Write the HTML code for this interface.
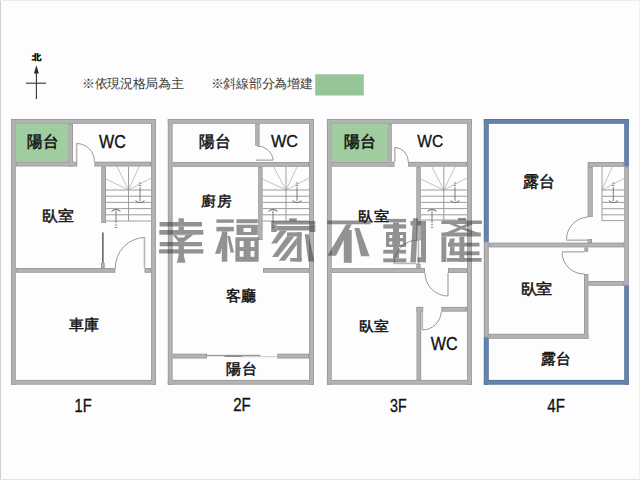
<!DOCTYPE html>
<html><head><meta charset="utf-8"><style>
html,body{margin:0;padding:0;background:#fdfdfd;}
body{width:640px;height:480px;overflow:hidden;position:relative;font-family:"Liberation Sans",sans-serif;}
svg{position:absolute;left:0;top:0;}
svg text{font-family:"Liberation Sans",sans-serif;}
</style></head><body>
<svg width="640" height="480" viewBox="0 0 640 480">
<rect x="0" y="0" width="640" height="480" fill="#fdfdfd"/>
<rect x="0" y="0" width="1" height="480" fill="#d0d2d0"/>
<rect x="0" y="479" width="640" height="1" fill="#e3e3e3"/>
<rect x="0" y="0" width="640" height="1" fill="#ececec"/>
<rect x="639" y="0" width="1" height="480" fill="#f0f0f0"/>

<path d="M36.4 65.3L33.9 73.4H38.9Z" fill="#2a2a2a"/>
<line x1="36.4" y1="72" x2="36.4" y2="99" stroke="#333" stroke-width="1.1"/>
<line x1="26" y1="83.2" x2="46" y2="83.2" stroke="#333" stroke-width="1.1"/>
<text transform="translate(32.00 59.95) scale(0.9715 0.8431)" font-size="10" font-weight="bold" fill="#111" stroke="#111" stroke-width="0.3">北</text><text x="81.9" y="88.4" font-size="13" letter-spacing="-0.3" fill="#3a3a3a">※依現況格局為主</text><text x="210.8" y="88.4" font-size="13" letter-spacing="-0.3" fill="#3a3a3a">※斜線部分為增建</text>

<rect x="315.2" y="74.3" width="48.6" height="21.2" fill="#97c59a"/>
<rect x="15.8" y="123.8" width="52.4" height="38" fill="#9fcd9f"/>
<rect x="75.8" y="143.5" width="1.6" height="18.5" fill="#b8b8b8"/>
<path d="M76.6 143.5A17.8 17.8 0 0 1 94.4 161.7" fill="none" stroke="#999999" stroke-width="1"/>
<line x1="128.5" y1="190" x2="106" y2="179" stroke="#b4b4b4" stroke-width="0.8"/>
<line x1="128.5" y1="190" x2="117" y2="166.5" stroke="#b4b4b4" stroke-width="0.8"/>
<line x1="128.5" y1="190" x2="139.1" y2="166.5" stroke="#b4b4b4" stroke-width="0.8"/>
<line x1="128.5" y1="190" x2="151.1" y2="178" stroke="#b4b4b4" stroke-width="0.8"/>
<line x1="128.5" y1="166.5" x2="128.5" y2="221" stroke="#939393" stroke-width="0.9"/>
<line x1="106" y1="190" x2="151.1" y2="190" stroke="#939393" stroke-width="0.9"/>
<line x1="106" y1="196.2" x2="151.1" y2="196.2" stroke="#939393" stroke-width="0.9"/>
<line x1="106" y1="202.4" x2="151.1" y2="202.4" stroke="#939393" stroke-width="0.9"/>
<line x1="106" y1="208.6" x2="151.1" y2="208.6" stroke="#939393" stroke-width="0.9"/>
<line x1="106" y1="214.8" x2="151.1" y2="214.8" stroke="#939393" stroke-width="0.9"/>
<line x1="106" y1="221" x2="151.1" y2="221" stroke="#939393" stroke-width="0.9"/>
<line x1="140" y1="187" x2="140" y2="201" stroke="#6e6e6e" stroke-width="0.9"/>
<path d="M135.5 200.5A6 6 0 0 0 144.5 200.5" fill="none" stroke="#6e6e6e" stroke-width="1.1"/>
<line x1="138.8" y1="183" x2="141.2" y2="183" stroke="#6e6e6e" stroke-width="0.8"/>
<line x1="138.8" y1="185.5" x2="141.2" y2="185.5" stroke="#6e6e6e" stroke-width="0.8"/>
<path d="M111.5 211.5A6 6 0 0 1 120.5 211.5" fill="none" stroke="#6e6e6e" stroke-width="1.1"/>
<line x1="116" y1="210.5" x2="116" y2="223" stroke="#6e6e6e" stroke-width="0.9"/>
<line x1="114.8" y1="225" x2="117.2" y2="225" stroke="#6e6e6e" stroke-width="0.8"/>
<line x1="114.8" y1="227.5" x2="117.2" y2="227.5" stroke="#6e6e6e" stroke-width="0.8"/>
<rect x="102" y="232.5" width="1.7" height="30.3" fill="#707070"/>
<rect x="143.7" y="237" width="1.6" height="31" fill="#b8b8b8"/>
<path d="M115.4 268A30 30 0 0 1 144.5 237.5" fill="none" stroke="#999999" stroke-width="1"/>
<rect x="256" y="159.39999999999998" width="17" height="1.6" fill="#b8b8b8"/>
<path d="M257 146A16 16 0 0 1 273.3 160" fill="none" stroke="#999999" stroke-width="1"/>
<line x1="286" y1="190" x2="262.6" y2="179" stroke="#b4b4b4" stroke-width="0.8"/>
<line x1="286" y1="190" x2="273.6" y2="166.8" stroke="#b4b4b4" stroke-width="0.8"/>
<line x1="286" y1="190" x2="297.1" y2="166.8" stroke="#b4b4b4" stroke-width="0.8"/>
<line x1="286" y1="190" x2="309.1" y2="178" stroke="#b4b4b4" stroke-width="0.8"/>
<line x1="286" y1="166.8" x2="286" y2="221" stroke="#939393" stroke-width="0.9"/>
<line x1="262.6" y1="190" x2="309.1" y2="190" stroke="#939393" stroke-width="0.9"/>
<line x1="262.6" y1="196.2" x2="309.1" y2="196.2" stroke="#939393" stroke-width="0.9"/>
<line x1="262.6" y1="202.4" x2="309.1" y2="202.4" stroke="#939393" stroke-width="0.9"/>
<line x1="262.6" y1="208.6" x2="309.1" y2="208.6" stroke="#939393" stroke-width="0.9"/>
<line x1="262.6" y1="214.8" x2="309.1" y2="214.8" stroke="#939393" stroke-width="0.9"/>
<line x1="262.6" y1="221" x2="309.1" y2="221" stroke="#939393" stroke-width="0.9"/>
<line x1="297" y1="187" x2="297" y2="201" stroke="#6e6e6e" stroke-width="0.9"/>
<path d="M292.5 200.5A6 6 0 0 0 301.5 200.5" fill="none" stroke="#6e6e6e" stroke-width="1.1"/>
<line x1="295.8" y1="183" x2="298.2" y2="183" stroke="#6e6e6e" stroke-width="0.8"/>
<line x1="295.8" y1="185.5" x2="298.2" y2="185.5" stroke="#6e6e6e" stroke-width="0.8"/>
<path d="M268.5 211.5A6 6 0 0 1 277.5 211.5" fill="none" stroke="#6e6e6e" stroke-width="1.1"/>
<line x1="273" y1="210.5" x2="273" y2="223" stroke="#6e6e6e" stroke-width="0.9"/>
<line x1="271.8" y1="225" x2="274.2" y2="225" stroke="#6e6e6e" stroke-width="0.8"/>
<line x1="271.8" y1="227.5" x2="274.2" y2="227.5" stroke="#6e6e6e" stroke-width="0.8"/>
<rect x="207" y="354.8" width="53.5" height="1.4" fill="#9a9a9a"/>
<rect x="224.5" y="355.6" width="17.5" height="1.4" fill="#8a8a8a"/>
<rect x="242" y="356.2" width="35" height="1" fill="#c8c8c8"/>
<rect x="331.7" y="123.8" width="55.7" height="38.1" fill="#9fcd9f"/>
<rect x="394.0" y="147.4" width="1.6" height="14.599999999999994" fill="#b8b8b8"/>
<path d="M394.8 147.4A14 14 0 0 1 408.3 162" fill="none" stroke="#999999" stroke-width="1"/>
<line x1="443.8" y1="190" x2="420.8" y2="179" stroke="#b4b4b4" stroke-width="0.8"/>
<line x1="443.8" y1="190" x2="431.8" y2="166.7" stroke="#b4b4b4" stroke-width="0.8"/>
<line x1="443.8" y1="190" x2="455.1" y2="166.7" stroke="#b4b4b4" stroke-width="0.8"/>
<line x1="443.8" y1="190" x2="467.1" y2="178" stroke="#b4b4b4" stroke-width="0.8"/>
<line x1="443.8" y1="166.7" x2="443.8" y2="220" stroke="#939393" stroke-width="0.9"/>
<line x1="420.8" y1="190" x2="467.1" y2="190" stroke="#939393" stroke-width="0.9"/>
<line x1="420.8" y1="196.2" x2="467.1" y2="196.2" stroke="#939393" stroke-width="0.9"/>
<line x1="420.8" y1="202.4" x2="467.1" y2="202.4" stroke="#939393" stroke-width="0.9"/>
<line x1="420.8" y1="208.6" x2="467.1" y2="208.6" stroke="#939393" stroke-width="0.9"/>
<line x1="420.8" y1="214.8" x2="467.1" y2="214.8" stroke="#939393" stroke-width="0.9"/>
<line x1="420.8" y1="220" x2="467.1" y2="220" stroke="#939393" stroke-width="0.9"/>
<line x1="455" y1="187" x2="455" y2="201" stroke="#6e6e6e" stroke-width="0.9"/>
<path d="M450.5 200.5A6 6 0 0 0 459.5 200.5" fill="none" stroke="#6e6e6e" stroke-width="1.1"/>
<line x1="453.8" y1="183" x2="456.2" y2="183" stroke="#6e6e6e" stroke-width="0.8"/>
<line x1="453.8" y1="185.5" x2="456.2" y2="185.5" stroke="#6e6e6e" stroke-width="0.8"/>
<path d="M427.5 211.5A6 6 0 0 1 436.5 211.5" fill="none" stroke="#6e6e6e" stroke-width="1.1"/>
<line x1="432" y1="210.5" x2="432" y2="223" stroke="#6e6e6e" stroke-width="0.9"/>
<line x1="430.8" y1="225" x2="433.2" y2="225" stroke="#6e6e6e" stroke-width="0.8"/>
<line x1="430.8" y1="227.5" x2="433.2" y2="227.5" stroke="#6e6e6e" stroke-width="0.8"/>
<rect x="417.7" y="240" width="1.6" height="24" fill="#b8b8b8"/>
<path d="M418.5 240A24 24 0 0 0 394 264" fill="none" stroke="#999999" stroke-width="1"/>
<rect x="394" y="262.59999999999997" width="22.30000000000001" height="1.6" fill="#b8b8b8"/>
<rect x="447.2" y="272.9" width="1.6" height="23.100000000000023" fill="#b8b8b8"/>
<path d="M425 272.9A23 23 0 0 0 448 296" fill="none" stroke="#999999" stroke-width="1"/>
<rect x="421.5" y="311.7" width="1.6" height="18.30000000000001" fill="#b8b8b8"/>
<path d="M422.3 330A19 19 0 0 0 441.25 311.7" fill="none" stroke="#999999" stroke-width="1"/>
<line x1="602" y1="190" x2="612.4" y2="166.8" stroke="#b4b4b4" stroke-width="0.8"/>
<line x1="602" y1="190" x2="624.2" y2="178.3" stroke="#b4b4b4" stroke-width="0.8"/>
<line x1="602" y1="166.8" x2="602" y2="220.6" stroke="#939393" stroke-width="0.9"/>
<line x1="602" y1="190" x2="624.2" y2="190" stroke="#939393" stroke-width="0.9"/>
<line x1="602" y1="196.3" x2="624.2" y2="196.3" stroke="#939393" stroke-width="0.9"/>
<line x1="602" y1="202.4" x2="624.2" y2="202.4" stroke="#939393" stroke-width="0.9"/>
<line x1="602" y1="208.7" x2="624.2" y2="208.7" stroke="#939393" stroke-width="0.9"/>
<line x1="602" y1="214.8" x2="624.2" y2="214.8" stroke="#939393" stroke-width="0.9"/>
<line x1="602" y1="220.6" x2="624.2" y2="220.6" stroke="#939393" stroke-width="0.9"/>
<line x1="613.3" y1="187" x2="613.3" y2="201" stroke="#6e6e6e" stroke-width="0.9"/>
<path d="M608.8 200.5A6 6 0 0 0 617.8 200.5" fill="none" stroke="#6e6e6e" stroke-width="1.1"/>
<line x1="612.0999999999999" y1="183" x2="614.5" y2="183" stroke="#6e6e6e" stroke-width="0.8"/>
<line x1="612.0999999999999" y1="185.5" x2="614.5" y2="185.5" stroke="#6e6e6e" stroke-width="0.8"/>
<path d="M588 217A22.5 22.5 0 0 0 566.5 239.5" fill="none" stroke="#999999" stroke-width="1"/>
<rect x="566.5" y="239.39999999999998" width="21.5" height="1.6" fill="#b8b8b8"/>
<rect x="562" y="251.0" width="22.299999999999955" height="1.6" fill="#b8b8b8"/>
<path d="M562 252.5A22 22 0 0 0 584.3 274" fill="none" stroke="#999999" stroke-width="1"/>
<rect x="11" y="119" width="144.9" height="4.8" fill="#9a9a9a"/>
<rect x="11" y="379.9" width="144.9" height="4.8" fill="#9a9a9a"/>
<rect x="11" y="119" width="4.8" height="265.7" fill="#9a9a9a"/>
<rect x="151.1" y="119" width="4.8" height="265.7" fill="#9a9a9a"/>
<rect x="68.2" y="123.8" width="4.8" height="42.7" fill="#9a9a9a"/>
<rect x="15.8" y="161.7" width="61.400000000000006" height="4.8" fill="#9a9a9a"/>
<rect x="94.4" y="161.7" width="56.69999999999999" height="4.8" fill="#9a9a9a"/>
<rect x="101.2" y="166.5" width="4.8" height="56.5" fill="#9a9a9a"/>
<rect x="101" y="262.8" width="3.7" height="5.2" fill="#9a9a9a"/>
<rect x="15.8" y="268" width="99.60000000000001" height="4.8" fill="#9a9a9a"/>
<rect x="144.5" y="268" width="6.599999999999994" height="4.8" fill="#9a9a9a"/>
<rect x="167.8" y="119" width="146.0" height="4.8" fill="#9a9a9a"/>
<rect x="167.8" y="379.9" width="146.0" height="4.8" fill="#9a9a9a"/>
<rect x="167.8" y="119" width="4.8" height="265.7" fill="#9a9a9a"/>
<rect x="309.1" y="119" width="4.8" height="265.7" fill="#9a9a9a"/>
<rect x="255.2" y="123.8" width="4.4" height="22" fill="#9a9a9a"/>
<rect x="172.6" y="162" width="136.50000000000003" height="4.8" fill="#9a9a9a"/>
<rect x="258.2" y="166.8" width="4.4" height="73.2" fill="#9a9a9a"/>
<rect x="263" y="268" width="46.10000000000002" height="4.8" fill="#9a9a9a"/>
<rect x="172.6" y="353.7" width="34.400000000000006" height="4.8" fill="#9a9a9a"/>
<rect x="277.3" y="353.7" width="31.80000000000001" height="4.8" fill="#9a9a9a"/>
<rect x="326.9" y="119" width="145.0" height="4.8" fill="#9a9a9a"/>
<rect x="326.9" y="379.9" width="145.0" height="4.8" fill="#9a9a9a"/>
<rect x="326.9" y="119" width="4.8" height="265.7" fill="#9a9a9a"/>
<rect x="467.1" y="119" width="4.8" height="265.7" fill="#9a9a9a"/>
<rect x="387.4" y="123.8" width="4.4" height="42.8" fill="#9a9a9a"/>
<rect x="331.7" y="161.9" width="62.80000000000001" height="4.8" fill="#9a9a9a"/>
<rect x="408.1" y="161.9" width="59.0" height="4.8" fill="#9a9a9a"/>
<rect x="416.3" y="166.7" width="4.5" height="73.6" fill="#9a9a9a"/>
<rect x="416.3" y="263.7" width="4.3" height="4.6" fill="#9a9a9a"/>
<rect x="331.7" y="268.1" width="93.30000000000001" height="4.8" fill="#9a9a9a"/>
<rect x="448" y="268.1" width="19.100000000000023" height="4.8" fill="#9a9a9a"/>
<rect x="416.5" y="306.9" width="4.7" height="73" fill="#9a9a9a"/>
<rect x="416.5" y="306.9" width="6.699999999999989" height="4.8" fill="#9a9a9a"/>
<rect x="441.25" y="306.9" width="25.850000000000023" height="4.8" fill="#9a9a9a"/>
<rect x="483.8" y="119" width="145.09999999999997" height="4.8" fill="#56739b"/>
<rect x="483.8" y="379.9" width="145.09999999999997" height="4.8" fill="#56739b"/>
<rect x="483.8" y="119" width="5" height="122.8" fill="#56739b"/>
<rect x="483.8" y="241.8" width="5" height="95.5" fill="#9a9a9a"/>
<rect x="483.8" y="337.3" width="5" height="47.4" fill="#56739b"/>
<rect x="624.2" y="119" width="4.7" height="47.7" fill="#56739b"/>
<rect x="624.2" y="166.7" width="4.7" height="118.6" fill="#9a9a9a"/>
<rect x="624.2" y="285.3" width="4.7" height="99.4" fill="#56739b"/>
<rect x="587.6" y="162" width="36.60000000000002" height="4.8" fill="#9a9a9a"/>
<rect x="587.6" y="166.8" width="5.2" height="50.2" fill="#9a9a9a"/>
<rect x="587.6" y="239" width="4.4" height="4" fill="#9a9a9a"/>
<rect x="488.8" y="242.6" width="135.40000000000003" height="4.8" fill="#9a9a9a"/>
<rect x="584.3" y="247.4" width="3.9" height="4.4" fill="#9a9a9a"/>
<rect x="584" y="274" width="4.4" height="64.6" fill="#9a9a9a"/>
<rect x="588.4" y="281" width="35.80000000000007" height="4.8" fill="#9a9a9a"/>
<rect x="488.8" y="333.8" width="99.6" height="5" fill="#9a9a9a"/>
<rect x="11.90" y="119.90" width="143.10" height="3.00" fill="#b3b3b3"/>
<rect x="11.90" y="380.80" width="143.10" height="3.00" fill="#b3b3b3"/>
<rect x="11.90" y="119.90" width="3.00" height="263.90" fill="#b3b3b3"/>
<rect x="152.00" y="119.90" width="3.00" height="263.90" fill="#b3b3b3"/>
<rect x="69.10" y="124.70" width="3.00" height="40.90" fill="#b3b3b3"/>
<rect x="16.70" y="162.60" width="59.60" height="3.00" fill="#b3b3b3"/>
<rect x="95.30" y="162.60" width="54.90" height="3.00" fill="#b3b3b3"/>
<rect x="102.10" y="167.40" width="3.00" height="54.70" fill="#b3b3b3"/>
<rect x="101.90" y="263.70" width="1.90" height="3.40" fill="#b3b3b3"/>
<rect x="16.70" y="268.90" width="97.80" height="3.00" fill="#b3b3b3"/>
<rect x="145.40" y="268.90" width="4.80" height="3.00" fill="#b3b3b3"/>
<rect x="168.70" y="119.90" width="144.20" height="3.00" fill="#b3b3b3"/>
<rect x="168.70" y="380.80" width="144.20" height="3.00" fill="#b3b3b3"/>
<rect x="168.70" y="119.90" width="3.00" height="263.90" fill="#b3b3b3"/>
<rect x="310.00" y="119.90" width="3.00" height="263.90" fill="#b3b3b3"/>
<rect x="256.10" y="124.70" width="2.60" height="20.20" fill="#b3b3b3"/>
<rect x="173.50" y="162.90" width="134.70" height="3.00" fill="#b3b3b3"/>
<rect x="259.10" y="167.70" width="2.60" height="71.40" fill="#b3b3b3"/>
<rect x="263.90" y="268.90" width="44.30" height="3.00" fill="#b3b3b3"/>
<rect x="173.50" y="354.60" width="32.60" height="3.00" fill="#b3b3b3"/>
<rect x="278.20" y="354.60" width="30.00" height="3.00" fill="#b3b3b3"/>
<rect x="327.80" y="119.90" width="143.20" height="3.00" fill="#b3b3b3"/>
<rect x="327.80" y="380.80" width="143.20" height="3.00" fill="#b3b3b3"/>
<rect x="327.80" y="119.90" width="3.00" height="263.90" fill="#b3b3b3"/>
<rect x="468.00" y="119.90" width="3.00" height="263.90" fill="#b3b3b3"/>
<rect x="388.30" y="124.70" width="2.60" height="41.00" fill="#b3b3b3"/>
<rect x="332.60" y="162.80" width="61.00" height="3.00" fill="#b3b3b3"/>
<rect x="409.00" y="162.80" width="57.20" height="3.00" fill="#b3b3b3"/>
<rect x="417.20" y="167.60" width="2.70" height="71.80" fill="#b3b3b3"/>
<rect x="417.20" y="264.60" width="2.50" height="2.80" fill="#b3b3b3"/>
<rect x="332.60" y="269.00" width="91.50" height="3.00" fill="#b3b3b3"/>
<rect x="448.90" y="269.00" width="17.30" height="3.00" fill="#b3b3b3"/>
<rect x="417.40" y="307.80" width="2.90" height="71.20" fill="#b3b3b3"/>
<rect x="417.40" y="307.80" width="4.90" height="3.00" fill="#b3b3b3"/>
<rect x="442.15" y="307.80" width="24.05" height="3.00" fill="#b3b3b3"/>
<rect x="484.70" y="119.90" width="143.30" height="3.00" fill="#6484ae"/>
<rect x="484.70" y="380.80" width="143.30" height="3.00" fill="#6484ae"/>
<rect x="484.70" y="119.90" width="3.20" height="121.00" fill="#6484ae"/>
<rect x="484.70" y="242.70" width="3.20" height="93.70" fill="#b3b3b3"/>
<rect x="484.70" y="338.20" width="3.20" height="45.60" fill="#6484ae"/>
<rect x="625.10" y="119.90" width="2.90" height="45.90" fill="#6484ae"/>
<rect x="625.10" y="167.60" width="2.90" height="116.80" fill="#b3b3b3"/>
<rect x="625.10" y="286.20" width="2.90" height="97.60" fill="#6484ae"/>
<rect x="588.50" y="162.90" width="34.80" height="3.00" fill="#b3b3b3"/>
<rect x="588.50" y="167.70" width="3.40" height="48.40" fill="#b3b3b3"/>
<rect x="588.50" y="239.90" width="2.60" height="2.20" fill="#b3b3b3"/>
<rect x="489.70" y="243.50" width="133.60" height="3.00" fill="#b3b3b3"/>
<rect x="585.20" y="248.30" width="2.10" height="2.60" fill="#b3b3b3"/>
<rect x="584.90" y="274.90" width="2.60" height="62.80" fill="#b3b3b3"/>
<rect x="589.30" y="281.90" width="34.00" height="3.00" fill="#b3b3b3"/>
<rect x="489.70" y="334.70" width="97.80" height="3.20" fill="#b3b3b3"/>
<text transform="translate(26.87 146.79) scale(0.9621 0.9819)" font-size="16" font-weight="normal" fill="#111" stroke="#111" stroke-width="0.5">陽台</text>
<text transform="translate(99.11 148.00) scale(0.8922 1.0536)" font-size="18" font-weight="normal" fill="#111" stroke="#111" stroke-width="0.35">WC</text>
<text transform="translate(42.34 221.14) scale(0.9923 0.9308)" font-size="16" font-weight="normal" fill="#111" stroke="#111" stroke-width="0.5">臥室</text>
<text transform="translate(68.84 330.48) scale(0.9395 0.9375)" font-size="16" font-weight="normal" fill="#111" stroke="#111" stroke-width="0.5">車庫</text>
<text transform="translate(74.52 411.68) scale(0.8191 1.0450)" font-size="18" font-weight="normal" fill="#111" stroke="#111" stroke-width="0.35">1F</text>
<text transform="translate(198.95 146.68) scale(0.9940 1.0045)" font-size="16" font-weight="normal" fill="#111" stroke="#111" stroke-width="0.5">陽台</text>
<text transform="translate(271.00 147.32) scale(0.9032 0.9368)" font-size="18" font-weight="normal" fill="#111" stroke="#111" stroke-width="0.35">WC</text>
<text transform="translate(201.16 206.21) scale(0.9397 0.8937)" font-size="16" font-weight="normal" fill="#111" stroke="#111" stroke-width="0.5">廚房</text>
<text transform="translate(226.32 301.10) scale(0.9405 0.9477)" font-size="16" font-weight="normal" fill="#111" stroke="#111" stroke-width="0.5">客廳</text>
<text transform="translate(226.16 373.61) scale(0.9760 0.9677)" font-size="16" font-weight="normal" fill="#111" stroke="#111" stroke-width="0.5">陽台</text>
<text transform="translate(233.24 411.39) scale(0.8343 1.0511)" font-size="18" font-weight="normal" fill="#111" stroke="#111" stroke-width="0.35">2F</text>
<text transform="translate(343.56 146.68) scale(1.0050 1.0045)" font-size="16" font-weight="normal" fill="#111" stroke="#111" stroke-width="0.5">陽台</text>
<text transform="translate(417.34 147.32) scale(0.8621 0.9368)" font-size="18" font-weight="normal" fill="#111" stroke="#111" stroke-width="0.35">WC</text>
<text transform="translate(358.03 221.22) scale(0.9653 0.8897)" font-size="16" font-weight="normal" fill="#111" stroke="#111" stroke-width="0.5">臥室</text>
<text transform="translate(358.73 331.22) scale(0.9453 0.8897)" font-size="16" font-weight="normal" fill="#111" stroke="#111" stroke-width="0.5">臥室</text>
<text transform="translate(430.79 350.38) scale(0.8960 0.9985)" font-size="18" font-weight="normal" fill="#111" stroke="#111" stroke-width="0.35">WC</text>
<text transform="translate(390.03 411.89) scale(0.7895 0.9990)" font-size="18" font-weight="normal" fill="#111" stroke="#111" stroke-width="0.35">3F</text>
<text transform="translate(523.25 186.61) scale(0.9917 0.9980)" font-size="16" font-weight="normal" fill="#111" stroke="#111" stroke-width="0.5">露台</text>
<text transform="translate(520.84 294.31) scale(0.9780 0.9074)" font-size="16" font-weight="normal" fill="#111" stroke="#111" stroke-width="0.5">臥室</text>
<text transform="translate(541.34 364.19) scale(0.9600 0.9650)" font-size="16" font-weight="normal" fill="#111" stroke="#111" stroke-width="0.5">露台</text>
<text transform="translate(547.34 411.89) scale(0.8370 0.9990)" font-size="18" font-weight="normal" fill="#111" stroke="#111" stroke-width="0.35">4F</text>
<g opacity="0.54" fill="#383838"><path fill-rule="evenodd" d="M178.5 218.3H183.9V222.1H178.5Z"/><path fill-rule="evenodd" d="M159.6 222.1H202V226.5H159.6Z"/><path fill-rule="evenodd" d="M178.5 226.5H183.9V230.1H178.5Z"/><path fill-rule="evenodd" d="M159.3 230.1H203.3V234.7H159.3Z"/><path fill-rule="evenodd" d="M172.7 234.7L193.4 234.7L184 242L178.5 242ZM176 235.2L186 235.2L183.5 237.6L178.5 237.6Z"/><path fill-rule="evenodd" d="M159.8 241.9H202V246.3H159.8Z"/><path fill-rule="evenodd" d="M159.1 249.2H203.3V253.6H159.1Z"/><path fill-rule="evenodd" d="M178.5 241.9H183.9V256H178.5Z"/><path fill-rule="evenodd" d="M178.5 256L183.9 256L185.5 262.8L176.8 262.8Z"/><path fill-rule="evenodd" d="M216.4 219.4H233.8V222.8H216.4Z"/><path fill-rule="evenodd" d="M216.4 226.8H233.8V231.4H216.4Z"/><path fill-rule="evenodd" d="M221.8 231.4H227.3V261.7H221.8Z"/><path fill-rule="evenodd" d="M221.8 234L226 234L220.2 253.8L215 253.8Z"/><path fill-rule="evenodd" d="M227.3 236L230 236L234 252.5L230.5 252.5Z"/><path fill-rule="evenodd" d="M236.5 219.2H257.8V223.2H236.5Z"/><path fill-rule="evenodd" d="M236.5 224.8H257.8V235.1H236.5ZM243.5 228.1H251.1V231.9H243.5Z"/><path fill-rule="evenodd" d="M235.4 237.3H258.7V261.7H235.4ZM239.7 241.1H243.6V247.1H239.7ZM250.6 241.1H254.4V247.1H250.6ZM239.7 250.9H243.6V256.8H239.7ZM250.6 250.9H254.4V256.8H250.6Z"/><path fill-rule="evenodd" d="M289.2 218.3H296.8V221.2H289.2Z"/><path fill-rule="evenodd" d="M271.2 221H315.3V224.6H271.2Z"/><path fill-rule="evenodd" d="M271.2 224.6H276.7V232H271.2Z"/><path fill-rule="evenodd" d="M309.8 224.6H315.3V232H309.8Z"/><path fill-rule="evenodd" d="M276.7 226.1H309.8V230.4H276.7Z"/><path fill-rule="evenodd" d="M280 230.4L287 230.4L276.7 243.4L271.2 243.4Z"/><path fill-rule="evenodd" d="M287 232.3H301.6V236.3H287Z"/><path fill-rule="evenodd" d="M296.9 232.3H301.6V261.6H296.9Z"/><path fill-rule="evenodd" d="M290.2 258H301.6V261.6H290.2Z"/><path fill-rule="evenodd" d="M287 236.3L294.5 236.3L277.9 256.9L272 256.9Z"/><path fill-rule="evenodd" d="M296.9 237.5L296.9 244.5L285 260.8L278.7 260.8Z"/><path fill-rule="evenodd" d="M304.8 234.3L308.6 234.3L314.3 261.4L308.3 261.4Z"/><path fill-rule="evenodd" d="M327.3 220.4H370.7V224.3H327.3Z"/><path fill-rule="evenodd" d="M346.3 224.3L351.7 224.3L336 255.8L327.3 255.8Z"/><path fill-rule="evenodd" d="M343.8 230H351.7V262.8H343.8Z"/><path fill-rule="evenodd" d="M354.5 228.1L359.3 228.1L369.6 256.3L361 256.3Z"/><path fill-rule="evenodd" d="M386 218.9H406V222.3H386Z"/><path fill-rule="evenodd" d="M383.3 224.3H406.1V228.6H383.3Z"/><path fill-rule="evenodd" d="M386 231.9H406.1V247.1H386ZM389.3 235H392.2V238H389.3ZM400 235H402.9V238H400ZM389.3 241.6H392.2V244.5H389.3ZM400 241.6H402.9V244.5H400Z"/><path fill-rule="evenodd" d="M383.3 249.8H406.1V253.6H383.3Z"/><path fill-rule="evenodd" d="M383.3 258.4H406.3V262.3H383.3Z"/><path fill-rule="evenodd" d="M393.1 222.3H399V258.4H393.1Z"/><path fill-rule="evenodd" d="M413 218.3L418 218.3L416 262.2L410.3 262.2Z"/><path fill-rule="evenodd" d="M410.5 221H426V225.5H410.5Z"/><path fill-rule="evenodd" d="M421 221H426V262.2H421Z"/><path fill-rule="evenodd" d="M417.5 257.3H426V262.2H417.5Z"/><path fill-rule="evenodd" d="M458 217.9H466V220.5H458Z"/><path fill-rule="evenodd" d="M441.4 220.5H481.9V224H441.4Z"/><path fill-rule="evenodd" d="M449 224L455.6 224L478.4 232.9L470.8 232.9Z"/><path fill-rule="evenodd" d="M466.5 224L473 224L453.4 232.9L444.8 232.9Z"/><path fill-rule="evenodd" d="M441.4 232.4H480.8V236.4H441.4Z"/><path fill-rule="evenodd" d="M441.4 236.6H446.3V262H441.4Z"/><path fill-rule="evenodd" d="M448 242.7H479.5V246.5H448Z"/><path fill-rule="evenodd" d="M449.6 251.4H479.5V255.2H449.6Z"/><path fill-rule="evenodd" d="M446.9 257.9H481.6V261.7H446.9Z"/><path fill-rule="evenodd" d="M459.4 236.6H464.3V262H459.4Z"/><path fill-rule="evenodd" d="M450 238.5L455 238.5L453 246.5L448 246.5Z"/><path fill-rule="evenodd" d="M450 246.5H454.5V255.2H450Z"/></g>
</svg>
</body></html>
